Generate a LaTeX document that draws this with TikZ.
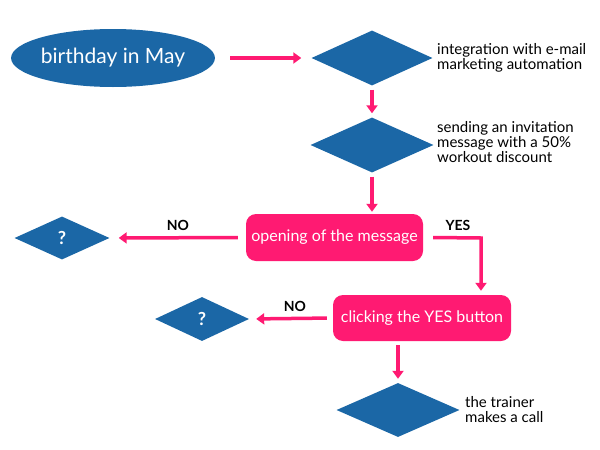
\documentclass[tikz,border=0pt]{standalone}
\usepackage{fontspec}
\setmainfont{Lato}
\usetikzlibrary{shapes.geometric,arrows.meta}
\definecolor{fblue}{RGB}{27,103,166}
\definecolor{fpink}{RGB}{255,26,114}
\begin{document}
\begin{tikzpicture}[x=1pt,y=-1pt,
  dia/.style={diamond,fill=fblue,draw=none,inner sep=0pt,text=white,font=\fontsize{18}{20}\selectfont\bfseries},
  pbox/.style={rectangle,rounded corners=10pt,fill=fpink,draw=none,text=white,inner sep=0pt,font=\fontsize{16}{18}\selectfont},
  side/.style={anchor=west,align=left,inner sep=0pt,font=\fontsize{15}{15.2}\selectfont},
  lab/.style={inner sep=0pt,font=\fontsize{14}{16}\selectfont\bfseries},
  arr/.style={draw=fpink,line width=3.5pt,-{Triangle[length=8pt,width=11pt]}},
]
\useasboundingbox (0,0) rectangle (600,450);
\node[ellipse,fill=fblue,minimum width=200pt,minimum height=58pt,inner sep=0pt,text=white,font=\fontsize{21}{24}\selectfont] (e) at (113,58) {birthday in May};
\node[dia,minimum width=121pt,minimum height=55pt] (d1) at (372,58) {};
\node[dia,minimum width=123pt,minimum height=55pt] (d2) at (372,145) {};
\node[pbox,minimum width=177pt,minimum height=47pt] (r1) at (334.5,237.5) {opening of the message};
\node[dia,minimum width=95pt,minimum height=43pt] (q1) at (62,238) {?};
\node[pbox,minimum width=178pt,minimum height=46pt] (r2) at (422,318) {clicking the YES button};
\node[dia,minimum width=94pt,minimum height=44pt] (q2) at (202,319) {?};
\node[dia,minimum width=123pt,minimum height=54pt] (d3) at (398,410) {};
\node[side] (t1) at (437,57.5) {integration with e-mail\\marketing automation};
\node[side] (t2) at (437,142) {sending an invitation\\message with a 50\%\\workout discount};
\node[side] (t3) at (465,409.5) {the trainer\\makes a call};
\node[lab] (no1) at (178,225) {NO};
\node[lab] (no2) at (295,306) {NO};
\node[lab] (yes) at (458,225) {YES};
\coordinate (yc) at (481,238);
\draw[arr,shorten <=15pt,shorten >=10pt] (e.east) -- (d1.west);
\draw[arr,shorten <=4pt,shorten >=4pt] (d1.south) -- (d2.north);
\draw[arr,shorten <=4pt,shorten >=2pt] (d2.south) -- (r1.north -| d2.south);
\draw[arr,shorten <=8pt,shorten >=9pt] (r1.west) -- (q1.east);
\draw[arr,shorten >=4pt] ([xshift=10pt]r1.east) -- (yc) -- (yc |- r2.north);
\draw[arr,shorten <=6pt,shorten >=7pt] (r2.west) -- (q2.east);
\draw[arr,shorten <=4pt,shorten >=4pt] (r2.south -| d3.north) -- (d3.north);
\end{tikzpicture}
\end{document}
